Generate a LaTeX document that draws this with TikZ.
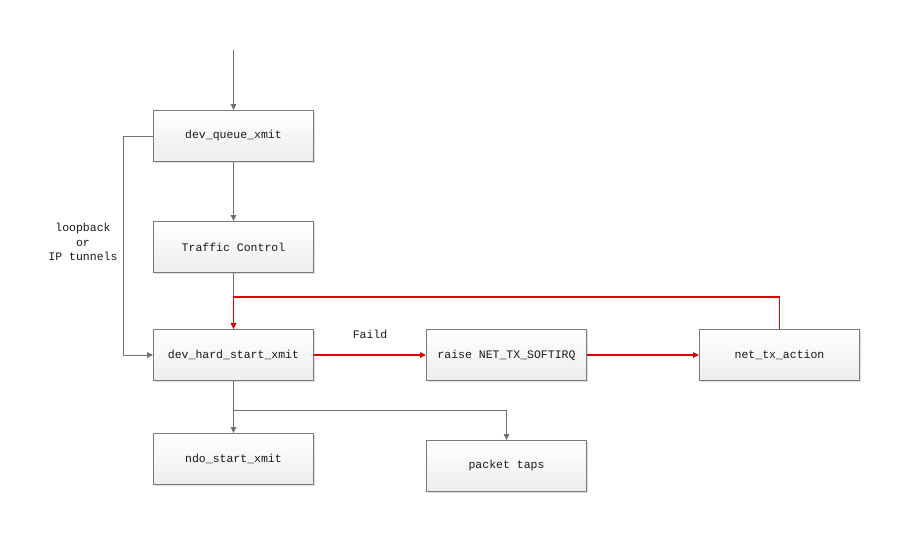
\documentclass[tikz,border=0pt]{standalone}
\usepackage{fontspec}
\setmonofont{Liberation Mono}
\usetikzlibrary{arrows.meta,shadows}

\definecolor{linegray}{HTML}{707070}
\definecolor{boxgray}{HTML}{7A7A7A}
\definecolor{failred}{HTML}{E00000}
\definecolor{textdark}{HTML}{1A1A1A}

\tikzset{
  box/.style={draw=boxgray, line width=0.9pt, top color=white, bottom color=gray!14,
    minimum width=160pt, minimum height=51pt, text=textdark,
    drop shadow={shadow xshift=1.5pt, shadow yshift=-1.5pt, opacity=0.25}},
  grayline/.style={draw=linegray, line width=0.9pt},
  redline/.style={draw=failred, line width=1.2pt}
}

\begin{document}
\begin{tikzpicture}[x=1pt, y=-1pt, font=\ttfamily\fontsize{11.5}{14.5}\selectfont,
    >={Triangle[length=6pt,width=5.5pt]}]
\useasboundingbox (0,0) rectangle (901,533);
% boxes
\node[box] (queue) at (233.5,136) {dev\_queue\_xmit};
\node[box] (tc) at (233.5,247) {Traffic Control};
\node[box] (hard) at (233.5,355) {dev\_hard\_start\_xmit};
\node[box] (raise) at (506.5,355) {raise NET\_TX\_SOFTIRQ};
\node[box] (action) at (779.5,355) {net\_tx\_action};
\node[box] (ndo) at (233.5,459) {ndo\_start\_xmit};
\node[box] (taps) at (506.5,466) {packet taps};
\node[align=center, text=textdark] (loop) at (83,242) {loopback\\or\\IP tunnels};
% helper points
\coordinate (entry) at (233.5,50);
\coordinate (join) at (233.5,297);
\coordinate (split) at (233.5,410.5);
% connectors
\draw[grayline,->] (entry) -- (queue);
\draw[grayline,->] (queue) -- (tc);
\draw[grayline,->] (queue.west) -- ++(-30,0) |- (hard.west);
\draw[grayline,->] (tc) -- (hard);
\draw[redline,->] (action.north) |- (join) -- (hard.north);
\draw[redline,->] (hard) -- node[above=12pt, text=textdark] (faild) {Faild} (raise);
\draw[redline,->] (raise) -- (action);
\draw[grayline,->] (hard) -- (ndo);
\draw[grayline,->] (split) -| (taps.north);
\end{tikzpicture}
\end{document}
